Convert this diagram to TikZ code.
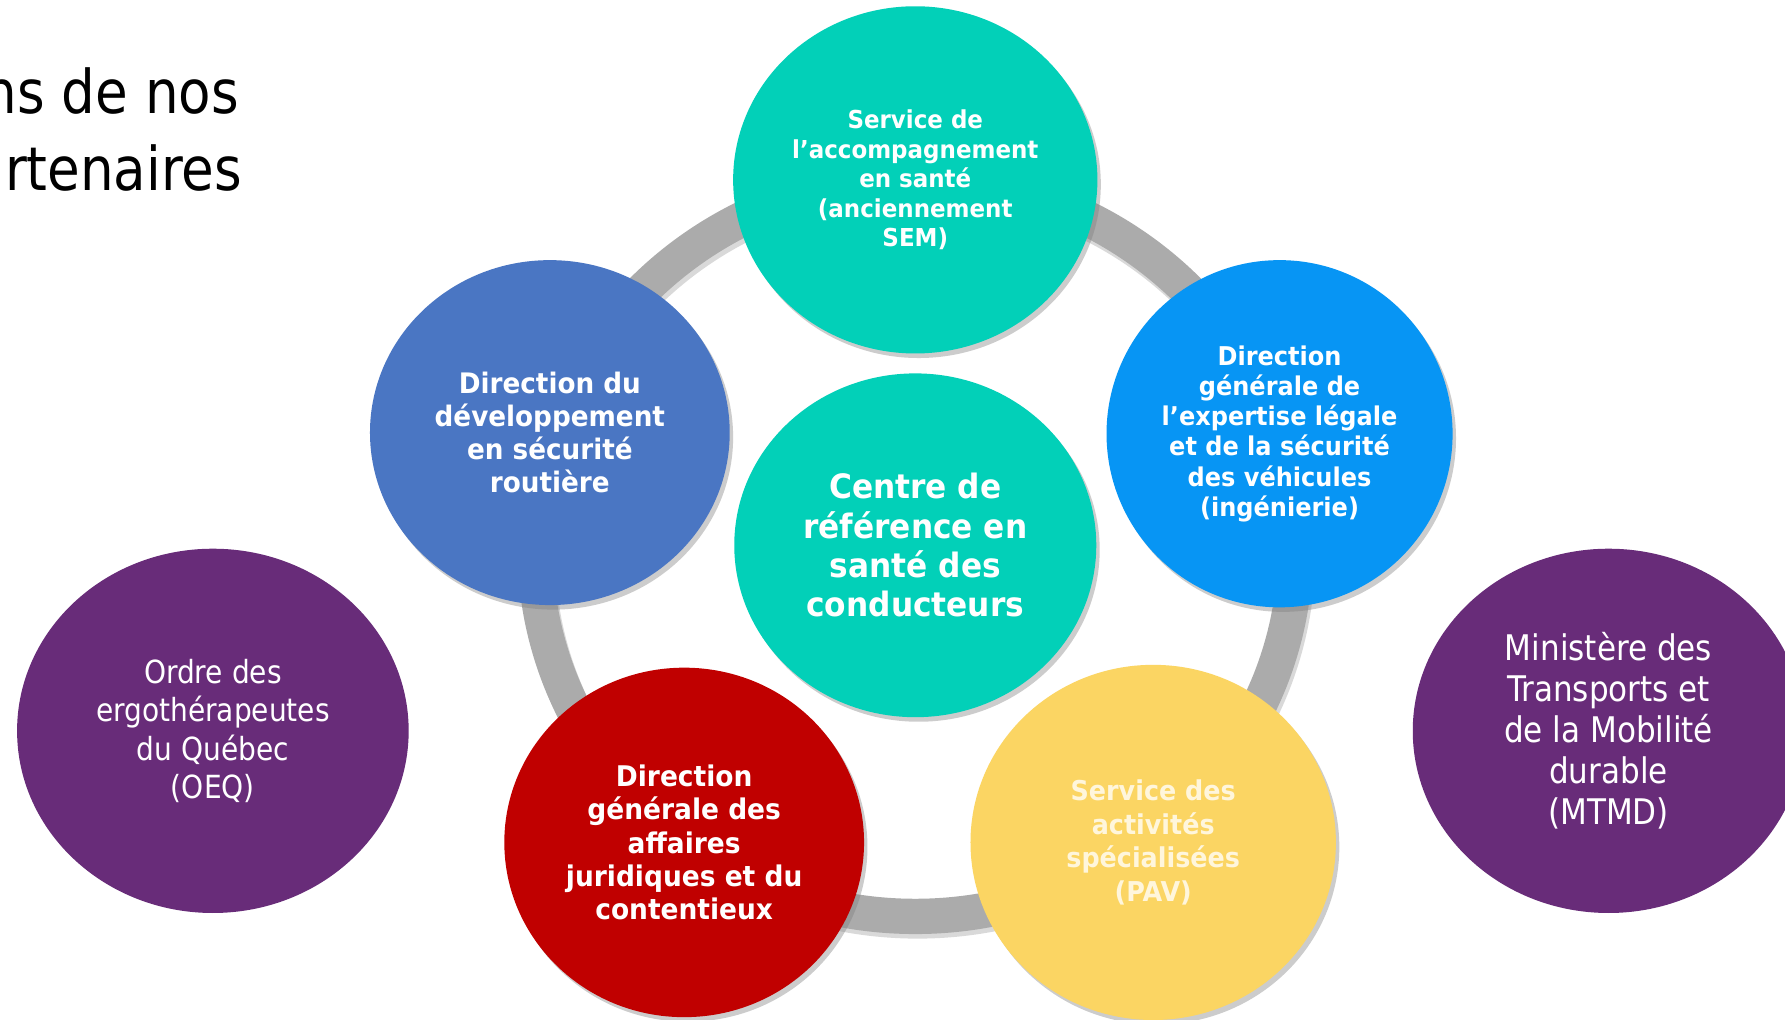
\documentclass[tikz,border=0pt]{standalone}
\usepackage{fontspec}
\setmainfont{DejaVu Sans}
\newfontfamily\regf{DejaVu Sans}[FakeStretch=0.88]
\newfontfamily\boldf{DejaVu Sans}[FakeStretch=0.93]
\usetikzlibrary{shapes.geometric,shadows}
\definecolor{tealc}{HTML}{02D0B8}
\definecolor{slatec}{HTML}{4A76C3}
\definecolor{brightc}{HTML}{0795F4}
\definecolor{redc}{HTML}{C00000}
\definecolor{yellowc}{HTML}{FBD563}
\definecolor{purplec}{HTML}{682C79}
\definecolor{ringc}{HTML}{ABABAB}
\definecolor{creamc}{HTML}{FFF6DC}
\tikzset{
  disk/.style={ellipse, inner sep=0pt, align=center, text=white,
    drop shadow={shadow xshift=3pt, shadow yshift=-4pt, opacity=0.4}},
  flatdisk/.style={ellipse, inner sep=0pt, align=center, text=white},
  boldtxt/.style n args={2}{font=\boldf\bfseries\fontsize{#1}{#2}\selectfont},
  regtxt/.style n args={2}{font=\regf\fontsize{#1}{#2}\selectfont},
  titletxt/.style={anchor=base east, inner sep=0pt, text=black, font=\regf\fontsize{53}{60}\selectfont}
}
\begin{document}
\begin{tikzpicture}[x=1pt,y=-1pt]
\useasboundingbox (0,0) rectangle (1568,896);
\fill[white] (0,0) rectangle (1568,896);
% title fragments
\node[titletxt] (t1) at (210,100) {ns de nos};
\node[titletxt] (t2) at (213,167.5) {rtenaires};
% ring
\draw[line width=31pt, black, opacity=0.15] (806,485) ellipse [x radius=334, y radius=324];
\draw[line width=31pt, ringc] (804,481) ellipse [x radius=334, y radius=324];
% circles
\node[disk, fill=tealc, minimum width=320pt, minimum height=305pt, boldtxt={21.7}{26}] (sem) at (804,158)
  {Service de\\l’accompagnement\\en santé\\(anciennement\\SEM)};
\node[disk, fill=tealc, minimum width=318pt, minimum height=302pt, boldtxt={29.5}{34.5}] (crsc) at (804,479)
  {Centre de\\référence en\\santé des\\conducteurs};
\node[disk, fill=slatec, minimum width=316pt, minimum height=303pt, boldtxt={24.8}{29}] (ddsr) at (483,380)
  {Direction du\\développement\\en sécurité\\routière};
\node[disk, fill=brightc, minimum width=304pt, minimum height=305pt, boldtxt={22.7}{26.6}] (dgel) at (1124,381)
  {Direction\\générale de\\l’expertise légale\\et de la sécurité\\des véhicules\\(ingénierie)};
\node[disk, fill=redc, minimum width=316pt, minimum height=307pt, boldtxt={25}{29.3}] (dgaj) at (601,740)
  {Direction\\générale des\\affaires\\juridiques et du\\contentieux};
\node[disk, fill=yellowc, text=creamc, minimum width=321pt, minimum height=312pt, boldtxt={24}{29.3}] (sas) at (1013,740)
  {Service des\\activités\\spécialisées\\(PAV)};
\node[flatdisk, fill=purplec, minimum width=344pt, minimum height=320pt, regtxt={28}{33.7}] (oeq) at (187,642)
  {Ordre des\\ergothérapeutes\\du Québec\\(OEQ)};
\node[flatdisk, fill=purplec, minimum width=344pt, minimum height=320pt, regtxt={31}{36}] (mtmd) at (1413,642)
  {Ministère des\\Transports et\\de la Mobilité\\durable\\(MTMD)};
\end{tikzpicture}
\end{document}
